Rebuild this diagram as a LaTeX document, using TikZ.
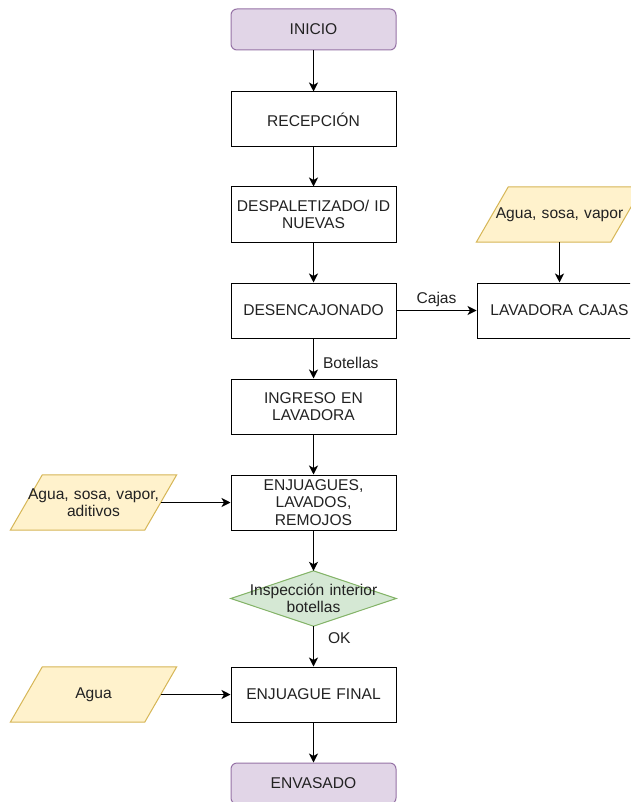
\documentclass[tikz,border=0pt]{standalone}
\usepackage{fontspec}
\setmainfont{Liberation Sans}
\usetikzlibrary{arrows.meta,backgrounds}
\definecolor{pfill}{HTML}{E1D5E7}
\definecolor{pline}{HTML}{9673A6}
\definecolor{yfill}{HTML}{FFF2CC}
\definecolor{yline}{HTML}{D6B656}
\definecolor{gfill}{HTML}{D5E8D4}
\definecolor{gline}{HTML}{82B366}
\definecolor{txt}{HTML}{222222}
\tikzset{
  every node/.style={font=\fontsize{15.6}{17.5}\selectfont, text=txt},
  proc/.style={draw=black, fill=white, line width=1pt, minimum width=165pt, minimum height=55pt, text width=165pt, inner xsep=0pt, inner ysep=0pt, align=center},
  term/.style={draw=pline, fill=pfill, line width=1pt, rounded corners=6pt, minimum width=165pt, minimum height=41pt, text width=165pt, inner xsep=0pt, inner ysep=0pt, align=center},
  paratext/.style={minimum height=55pt, text width=134pt, inner xsep=0pt, inner ysep=0pt, align=center},
  parashape/.style={draw=yline, fill=yfill, line width=1pt},
  diatext/.style={minimum height=55pt, text width=165pt, inner xsep=0pt, inner ysep=0pt, align=center},
  diashape/.style={draw=gline, fill=gfill, line width=1pt},
  flow/.style={line width=1pt, -{Stealth[length=9pt,width=9pt,inset=2.5pt]}},
  lbl/.style={inner sep=1pt}
}
\begin{document}
\begin{tikzpicture}[x=1pt,y=-1pt]
\clip (0,0) rectangle (630,802);
% main column
\node[term] (inicio) at (313.5,29.5) {INICIO};
\node[proc] (recep) at (313.5,119.5) {RECEPCIÓN};
\node[proc] (despal) at (313.5,214.5) {DESPALETIZADO/ ID\\NUEVAS};
\node[proc] (desenc) at (313.5,310.5) {DESENCAJONADO};
\node[proc] (ingreso) at (313.5,406.5) {INGRESO EN\\LAVADORA};
\node[proc] (enjuag) at (313.5,502.5) {ENJUAGUES,\\LAVADOS,\\REMOJOS};
\node[diatext] (insp) at (313.5,598.5) {Inspección interior\\botellas};
\node[proc] (final) at (313.5,694.5) {ENJUAGUE FINAL};
\node[term] (envas) at (313.5,783.5) {ENVASADO};
% right branch
\node[proc] (lavcaj) at (559.5,310.5) {LAVADORA CAJAS};
\node[paratext] (in1) at (559.5,214.5) {Agua, sosa, vapor};
% left inputs
\node[paratext] (in2) at (93.5,502.5) {Agua, sosa, vapor,\\aditivos};
\node[paratext] (in3) at (93.5,694.5) {Agua};
\begin{scope}[on background layer]
  \fill[white] (0,0) rectangle (630,802);
  \foreach \p in {in1,in2,in3}{
    \draw[parashape] ([xshift=16pt]\p.north west) -- ([xshift=16pt]\p.north east) -- ([xshift=-16pt]\p.south east) -- ([xshift=-16pt]\p.south west) -- cycle;
  }
  \draw[diashape] (insp.north) -- (insp.east) -- (insp.south) -- (insp.west) -- cycle;
\end{scope}
% connectors
\draw[flow] (inicio) -- (recep);
\draw[flow] (recep) -- (despal);
\draw[flow] (despal) -- (desenc);
\draw[flow] (desenc) -- node[lbl, pos=0.6, anchor=west, xshift=8pt] {Botellas} (ingreso);
\draw[flow] (ingreso) -- (enjuag);
\draw[flow] (enjuag) -- (insp.north);
\draw[flow] (insp.south) -- node[lbl, pos=0.3, anchor=west, xshift=13pt] {OK} (final);
\draw[flow] (final) -- (envas);
\draw[flow] (desenc) -- node[lbl, pos=0.5, above, yshift=2pt] {Cajas} (lavcaj);
\draw[flow] (in1) -- (lavcaj);
\draw[flow] (in2.east) -- (enjuag);
\draw[flow] (in3.east) -- (final);
\end{tikzpicture}
\end{document}
